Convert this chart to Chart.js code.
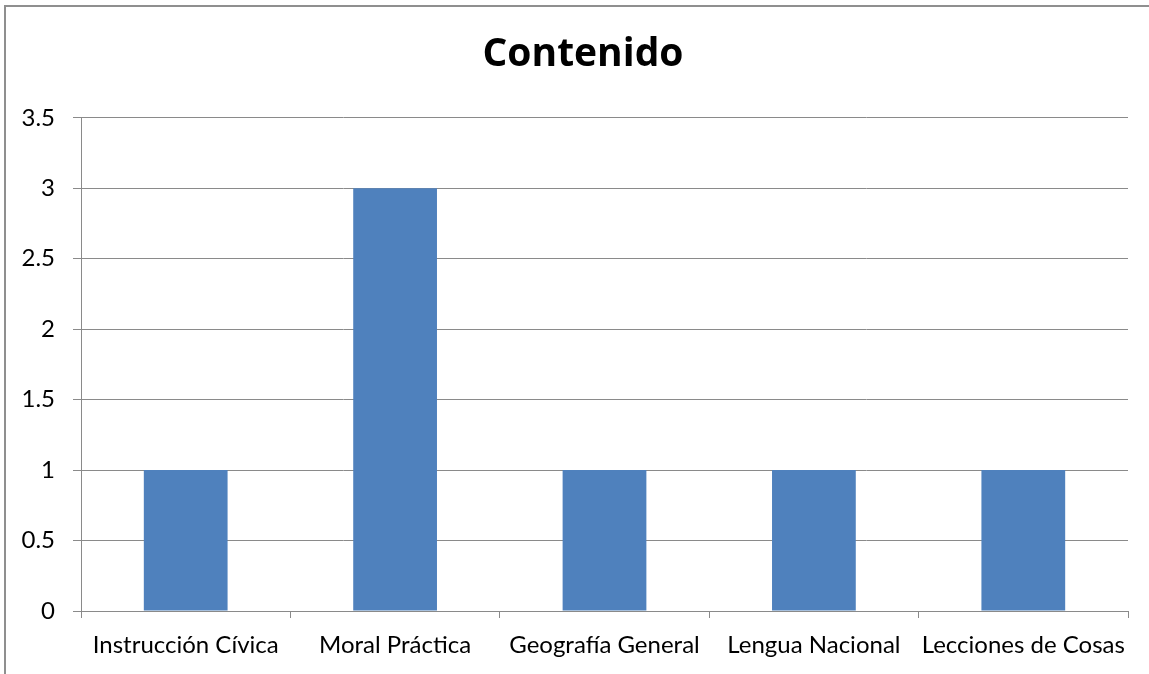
<!DOCTYPE html>
<html>
<head>
<meta charset="utf-8">
<script src="https://cdn.jsdelivr.net/npm/chart.js@4"></script>
<style>
  html, body { margin: 0; padding: 0; background: #ffffff; }
  body { width: 1149px; height: 674px; position: relative; overflow: hidden; }
  #frame {
    position: absolute; left: 4px; top: 5px; width: 1200px; height: 720px;
    border-left: 2px solid #8f8f8f; border-top: 2px solid #8f8f8f;
  }
  #wrap { position: absolute; left: 0; top: 0; width: 1149px; height: 674px; }
</style>
</head>
<body>
<div id="frame"></div>
<div id="wrap"><canvas id="contenidoChart"></canvas></div>
<script>
const { Chart } = window;

const categories = [
  'Instrucción Cívica',
  'Moral Práctica',
  'Geografía General',
  'Lengua Nacional',
  'Lecciones de Cosas',
];
const counts = [1, 3, 1, 1, 1];
const yTicks = [0, 0.5, 1, 1.5, 2, 2.5, 3, 3.5];

Chart.defaults.font.family = 'Lato, "Open Sans", sans-serif';
Chart.defaults.color = '#000000';

const gridColor = '#8a8a8a';

// nudge the title box so it is centred on the whole frame, not just the plot
const titleShift = {
  id: 'titleShift',
  afterLayout: (chart) => {
    if (chart.titleBlock) {
      chart.titleBlock.left += 38;
    }
  },
};

const ctx = document.getElementById('contenidoChart').getContext('2d');
const contenidoChart = new Chart(ctx, {
  type: 'bar',
  data: {
    labels: categories,
    datasets: [
      {
        label: 'Contenido',
        data: counts,
        backgroundColor: '#4f81bd',
        borderWidth: 0,
        barPercentage: 0.4,
        categoryPercentage: 1,
      },
    ],
  },
  plugins: [titleShift],
  options: {
    responsive: true,
    maintainAspectRatio: false,
    animation: false,
    layout: {
      padding: { left: 0, right: 21, top: 0, bottom: 0 },
    },
    plugins: {
      legend: { display: false },
      tooltip: { enabled: false },
      title: {
        display: true,
        text: 'Contenido',
        color: '#000000',
        font: { family: '"Open Sans", sans-serif', size: 39, weight: 'bold', lineHeight: 1.2 },
        padding: { top: 31, bottom: 40 },
      },
    },
    scales: {
      x: {
        grid: {
          offset: true,
          drawOnChartArea: false,
          tickLength: 7,
          color: gridColor,
        },
        border: { color: gridColor, width: 1 },
        ticks: {
          font: { size: 24 },
          padding: 13,
          maxRotation: 0,
          autoSkip: false,
        },
        afterFit: (scale) => {
          scale.height = 63;
        },
      },
      y: {
        min: 0,
        max: 3.5,
        afterBuildTicks: (scale) => {
          scale.ticks = yTicks.map((v) => ({ value: v }));
        },
        grid: {
          color: gridColor,
          tickLength: 8,
        },
        border: { color: gridColor, width: 1 },
        ticks: {
          font: { size: 24 },
          padding: 18,
          callback: (value) => String(value),
        },
        afterFit: (scale) => {
          scale.width = 81;
        },
      },
    },
  },
});
</script>
</body>
</html>
